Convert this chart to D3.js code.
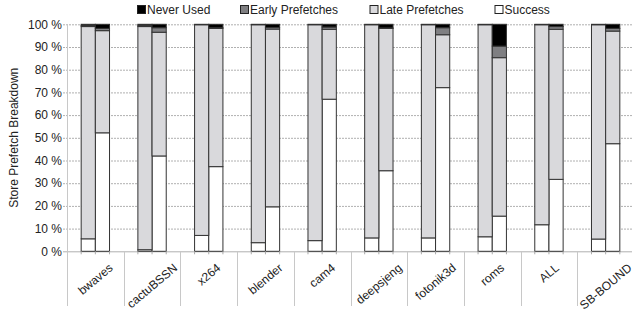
<!DOCTYPE html>
<html>
<head>
<meta charset="utf-8">
<script src="https://cdn.jsdelivr.net/npm/d3@7"></script>
<style>
  body { margin: 0; background: #fff; }
  svg { display: block; font-family: "Liberation Sans", Arial, sans-serif; }
</style>
</head>
<body>
<svg id="chart" width="632" height="311"></svg>
<script>
// benchmarks along the x axis
const categories = ['bwaves', 'cactuBSSN', 'x264', 'blender', 'cam4', 'deepsjeng', 'fotonik3d', 'roms', 'ALL', 'SB-BOUND'];
const seriesNames = ['Success', 'Late Prefetches', 'Early Prefetches', 'Never Used'];
const seriesColors = ['#ffffff', '#d9d9dc', '#7f7f82', '#000000'];

// first bar of each group (percent)
const success1 = [5.5, 0.7, 7.0, 3.8, 4.7, 5.9, 5.9, 6.4, 11.7, 5.4];
const late1    = [93.5, 98.3, 92.8, 96.0, 95.1, 93.9, 93.9, 93.4, 88.1, 94.4];
const early1   = [0.5, 0.6, 0.0, 0.0, 0.0, 0.0, 0.0, 0.0, 0.0, 0.0];
const never1   = [0.5, 0.4, 0.2, 0.2, 0.2, 0.2, 0.2, 0.2, 0.2, 0.2];

// second bar of each group (percent)
const success2 = [52.2, 42.0, 37.3, 19.6, 67.0, 35.5, 72.1, 15.5, 31.7, 47.4];
const late2    = [45.0, 54.5, 60.9, 78.3, 30.8, 62.7, 23.3, 69.8, 66.1, 49.6];
const early2   = [1.0, 2.0, 0.3, 0.7, 1.0, 0.2, 3.1, 5.1, 1.2, 1.2];
const never2   = [1.8, 1.5, 1.5, 1.4, 1.2, 1.6, 1.5, 9.6, 1.0, 1.8];

const yTicks = [0, 10, 20, 30, 40, 50, 60, 70, 80, 90, 100];

const svg = d3.select('#chart');
const margin = { left: 67, right: 634, top: 24.3, bottom: 251.3 };
const textColor = '#222';

const rows = [];
categories.forEach((c, i) => {
    rows.push({ cat: c, bar: 0, 'Success': success1[i], 'Late Prefetches': late1[i], 'Early Prefetches': early1[i], 'Never Used': never1[i] });
    rows.push({ cat: c, bar: 1, 'Success': success2[i], 'Late Prefetches': late2[i], 'Early Prefetches': early2[i], 'Never Used': never2[i] });
});

const x0 = d3.scaleBand().domain(categories).range([margin.left, margin.right]).padding(0);
const x1 = d3.scaleBand().domain([0, 1]).range([0, x0.bandwidth()]).paddingInner(0).paddingOuter(1);
const y = d3.scaleLinear().domain([0, 100]).range([margin.bottom, margin.top]);

// gridlines
svg.append('g')
    .selectAll('line')
    .data(yTicks)
    .join('line')
    .attr('x1', margin.left - 4)
    .attr('x2', margin.right)
    .attr('y1', d => y(d) + 0.5)
    .attr('y2', d => y(d) + 0.5)
    .attr('stroke', '#b0b0b0')
    .attr('stroke-dasharray', d => d === 0 ? null : '2,1')
    .attr('stroke-width', 1);

// y tick labels
svg.append('g')
    .selectAll('text')
    .data(yTicks)
    .join('text')
    .attr('x', 62)
    .attr('y', d => y(d))
    .attr('dy', '0.35em')
    .attr('text-anchor', 'end')
    .attr('font-size', 12)
    .attr('fill', textColor)
    .text(d => d + ' %');

// y axis line
svg.append('line')
    .attr('x1', margin.left + 0.5).attr('x2', margin.left + 0.5)
    .attr('y1', margin.top).attr('y2', 306)
    .attr('stroke', '#c8c8c8');

// category separators below the axis
svg.append('g')
    .selectAll('line')
    .data(categories.slice(1))
    .join('line')
    .attr('x1', d => Math.round(x0(d)) + 0.5)
    .attr('x2', d => Math.round(x0(d)) + 0.5)
    .attr('y1', margin.bottom)
    .attr('y2', 306)
    .attr('stroke', '#c8c8c8');

// stacked bars
const stack = d3.stack().keys(seriesNames);
const stacked = stack(rows);
const color = d3.scaleOrdinal().domain(seriesNames).range(seriesColors);

svg.append('g')
    .selectAll('g')
    .data(stacked)
    .join('g')
    .attr('fill', d => color(d.key))
    .selectAll('rect')
    .data(d => d.filter(s => s[1] - s[0] > 0))
    .join('rect')
    .attr('x', d => x0(d.data.cat) + x1(d.data.bar))
    .attr('width', x1.bandwidth())
    .attr('y', d => y(d[1]))
    .attr('height', d => y(d[0]) - y(d[1]))
    .attr('stroke', '#333')
    .attr('stroke-width', 1);

// small ticks at bar edges
const edges = [];
categories.forEach(c => {
    edges.push(x0(c) + x1(0), x0(c) + x1(1), x0(c) + x1(1) + x1.bandwidth());
});
svg.append('g')
    .selectAll('line')
    .data(edges)
    .join('line')
    .attr('x1', d => d).attr('x2', d => d)
    .attr('y1', margin.bottom).attr('y2', margin.bottom + 3)
    .attr('stroke', '#aaa');

// rotated category labels
const angle = 40;
const rad = angle * Math.PI / 180;
svg.append('g')
    .selectAll('text')
    .data(categories)
    .join('text')
    .attr('font-size', 12)
    .attr('fill', textColor)
    .attr('text-anchor', 'middle')
    .text(d => d)
    .each(function(d) {
        const w = this.getComputedTextLength();
        const cx = x0(d) + x0.bandwidth() / 2;
        const cy = 266 + (w / 2) * Math.sin(rad);
        d3.select(this)
            .attr('dy', '0.35em')
            .attr('transform', `translate(${cx},${cy}) rotate(${-angle})`);
    });

// y axis title
svg.append('text')
    .attr('transform', `translate(14,${(margin.top + margin.bottom) / 2}) rotate(-90)`)
    .attr('text-anchor', 'middle')
    .attr('dy', '0.35em')
    .attr('font-size', 12)
    .attr('fill', textColor)
    .text('Store Prefetch Breakdown');

// legend
const legendItems = [
    { name: 'Never Used', x: 137 },
    { name: 'Early Prefetches', x: 240 },
    { name: 'Late Prefetches', x: 369.5 },
    { name: 'Success', x: 494.5 }
];
const legend = svg.append('g')
    .selectAll('g')
    .data(legendItems)
    .join('g')
    .attr('transform', d => `translate(${d.x},0)`);

legend.append('rect')
    .attr('x', 0.5).attr('y', 5.5)
    .attr('width', 8).attr('height', 8)
    .attr('fill', d => color(d.name))
    .attr('stroke', '#222');

legend.append('text')
    .attr('x', 10)
    .attr('y', 14)
    .attr('font-size', 12)
    .attr('fill', textColor)
    .text(d => d.name);
</script>
</body>
</html>
